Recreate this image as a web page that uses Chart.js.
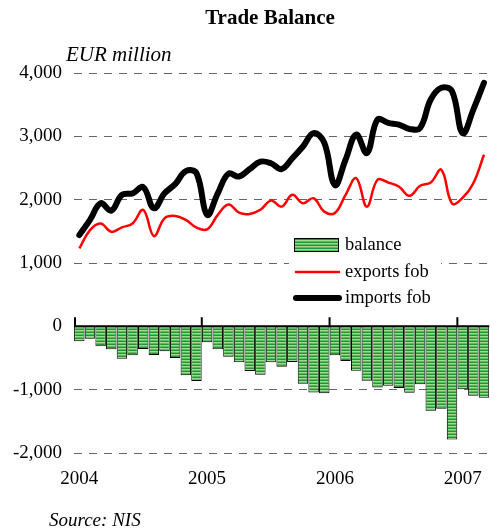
<!DOCTYPE html>
<html>
<head>
<meta charset="utf-8">
<title>Trade Balance</title>
<script src="https://cdn.jsdelivr.net/npm/chart.js@4.4.1/dist/chart.umd.min.js"></script>
<style>
  html, body { margin: 0; padding: 0; background: #fff; }
  #wrap { width: 499px; height: 530px; }
</style>
</head>
<body>
<div id="wrap"><canvas id="chart" width="499" height="530"></canvas></div>
<script>
// monthly data, EUR million
const months = [
  'Jan 2004','Feb 2004','Mar 2004','Apr 2004','May 2004','Jun 2004','Jul 2004','Aug 2004','Sep 2004','Oct 2004','Nov 2004','Dec 2004',
  'Jan 2005','Feb 2005','Mar 2005','Apr 2005','May 2005','Jun 2005','Jul 2005','Aug 2005','Sep 2005','Oct 2005','Nov 2005','Dec 2005',
  'Jan 2006','Feb 2006','Mar 2006','Apr 2006','May 2006','Jun 2006','Jul 2006','Aug 2006','Sep 2006','Oct 2006','Nov 2006','Dec 2006',
  'Jan 2007','Feb 2007','Mar 2007'
];
const balance = [
  -237, -195, -316, -363, -510, -458, -358, -453, -395, -500, -774, -864,
  -253, -363, -479, -569, -706, -763, -569, -637, -564, -905, -1043, -1058,
  -458, -548, -700, -858, -964, -937, -974, -1048, -916, -1332, -1301, -1785,
  -995, -1095, -1127
];
const exportsFob = [
  1230, 1520, 1625, 1492, 1563, 1625, 1838, 1426, 1706, 1743, 1680, 1560,
  1530, 1760, 1925, 1796, 1775, 1840, 1985, 1890, 2076, 1944, 2022, 1811,
  1790, 2076, 2340, 1890, 2314, 2271, 2208, 2060, 2219, 2271, 2472, 1940,
  2030, 2260, 2710
];
const importsFob = [
  1440, 1680, 1944, 1827, 2076, 2100, 2198, 1865, 2100, 2245, 2450, 2420,
  1760, 2100, 2409, 2365, 2483, 2600, 2575, 2483, 2654, 2840, 3050, 2900,
  2230, 2630, 3027, 2736, 3265, 3212, 3185, 3117, 3133, 3582, 3767, 3713,
  3050, 3423, 3846
];
const seriesNames = ['balance', 'exports fob', 'imports fob'];

const FONT = "'Liberation Serif', 'Times New Roman', serif";

// striped green fill for the bars
function stripes() {
  const c = document.createElement('canvas');
  c.width = 4; c.height = 3;
  const g = c.getContext('2d');
  g.fillStyle = '#9bdc92'; g.fillRect(0, 0, 4, 1);
  g.fillStyle = '#5cbc5c'; g.fillRect(0, 1, 4, 1);
  g.fillStyle = '#2a8f37'; g.fillRect(0, 2, 4, 1);
  return g.createPattern(c, 'repeat');
}
const barFill = stripes();

// zero line, year ticks, legend and the loose texts
const extras = {
  id: 'extras',
  afterDatasetsDraw(chart) {
    const { ctx, chartArea, scales: { x, y } } = chart;
    const y0 = y.getPixelForValue(0);
    const half = (x.getPixelForValue(1) - x.getPixelForValue(0)) / 2;
    ctx.save();
    ctx.strokeStyle = '#000';
    ctx.lineWidth = 2;
    ctx.beginPath();
    ctx.moveTo(chartArea.left, y0);
    ctx.lineTo(chartArea.right, y0);
    months.forEach((m, i) => {
      if (m.startsWith('Jan')) {
        const xp = Math.max(chartArea.left + 1, x.getPixelForValue(i) - half);
        ctx.moveTo(xp, y0);
        ctx.lineTo(xp, y0 - 9);
      }
    });
    ctx.stroke();
    ctx.restore();
  },
  afterDraw(chart) {
    const { ctx } = chart;
    const ds = chart.data.datasets;
    ctx.save();
    // legend
    ctx.fillStyle = '#fff';
    ctx.fillRect(289, 229, 152, 83);
    const rows = [245, 272, 298];
    ctx.font = '18.5px ' + FONT;
    ctx.textBaseline = 'middle';
    ds.forEach((d, i) => {
      const ry = rows[i];
      if (d.type === 'bar') {
        ctx.fillStyle = barFill;
        ctx.fillRect(294, ry - 7, 45, 14);
        ctx.strokeStyle = '#000';
        ctx.lineWidth = 1;
        ctx.strokeRect(294.5, ry - 6.5, 44, 13);
      } else {
        ctx.strokeStyle = d.borderColor;
        ctx.lineWidth = d.borderWidth;
        ctx.lineCap = 'round';
        ctx.beginPath();
        ctx.moveTo(296, ry);
        ctx.lineTo(339, ry);
        ctx.stroke();
      }
      ctx.fillStyle = '#000';
      ctx.textAlign = 'left';
      ctx.fillText(d.label, 345, ry);
    });
    // title and notes
    ctx.textAlign = 'center';
    ctx.font = 'bold 21px ' + FONT;
    ctx.fillText('Trade Balance', 270, 19);
    ctx.textAlign = 'left';
    ctx.font = 'italic 21px ' + FONT;
    ctx.fillText('EUR million', 66, 55);
    ctx.font = 'italic 19px ' + FONT;
    ctx.fillText('Source: NIS', 49, 521);
    ctx.restore();
  }
};

new Chart(document.getElementById('chart'), {
  data: {
    labels: months,
    datasets: [
      {
        type: 'bar',
        label: seriesNames[0],
        data: balance,
        backgroundColor: barFill,
        borderColor: '#000',
        borderWidth: 1,
        barPercentage: 0.98,
        categoryPercentage: 1,
        order: 3
      },
      {
        type: 'line',
        label: seriesNames[1],
        data: exportsFob,
        borderColor: '#ff0000',
        borderWidth: 2.5,
        pointRadius: 0,
        tension: 0.4,
        fill: false,
        order: 2
      },
      {
        type: 'line',
        label: seriesNames[2],
        data: importsFob,
        borderColor: '#000',
        borderWidth: 6,
        pointRadius: 0,
        tension: 0.4,
        borderCapStyle: 'round',
        fill: false,
        order: 1
      }
    ]
  },
  options: {
    responsive: false,
    animation: false,
    layout: { padding: { top: 73, right: 1, left: 0, bottom: 0 } },
    plugins: {
      legend: { display: false },
      title: { display: false },
      tooltip: { enabled: false }
    },
    scales: {
      x: {
        type: 'category',
        offset: true,
        grid: { display: false, drawTicks: false },
        border: { display: false },
        ticks: {
          autoSkip: false,
          maxRotation: 0,
          padding: 15,
          color: '#000',
          font: { family: FONT, size: 19 },
          callback: (v, i) => months[i].startsWith('Jan') ? months[i].slice(4) : ''
        },
        afterFit: s => { s.height = 77; }
      },
      y: {
        min: -2000,
        max: 4000,
        grid: { color: '#666', lineWidth: 1, drawTicks: false },
        border: { display: false, dash: [8, 7] },
        ticks: {
          stepSize: 1000,
          padding: 12,
          color: '#000',
          font: { family: FONT, size: 19 },
          callback: v => v.toLocaleString('en-US')
        },
        afterFit: s => { s.width = 74; }
      }
    }
  },
  plugins: [extras]
});
</script>
</body>
</html>
